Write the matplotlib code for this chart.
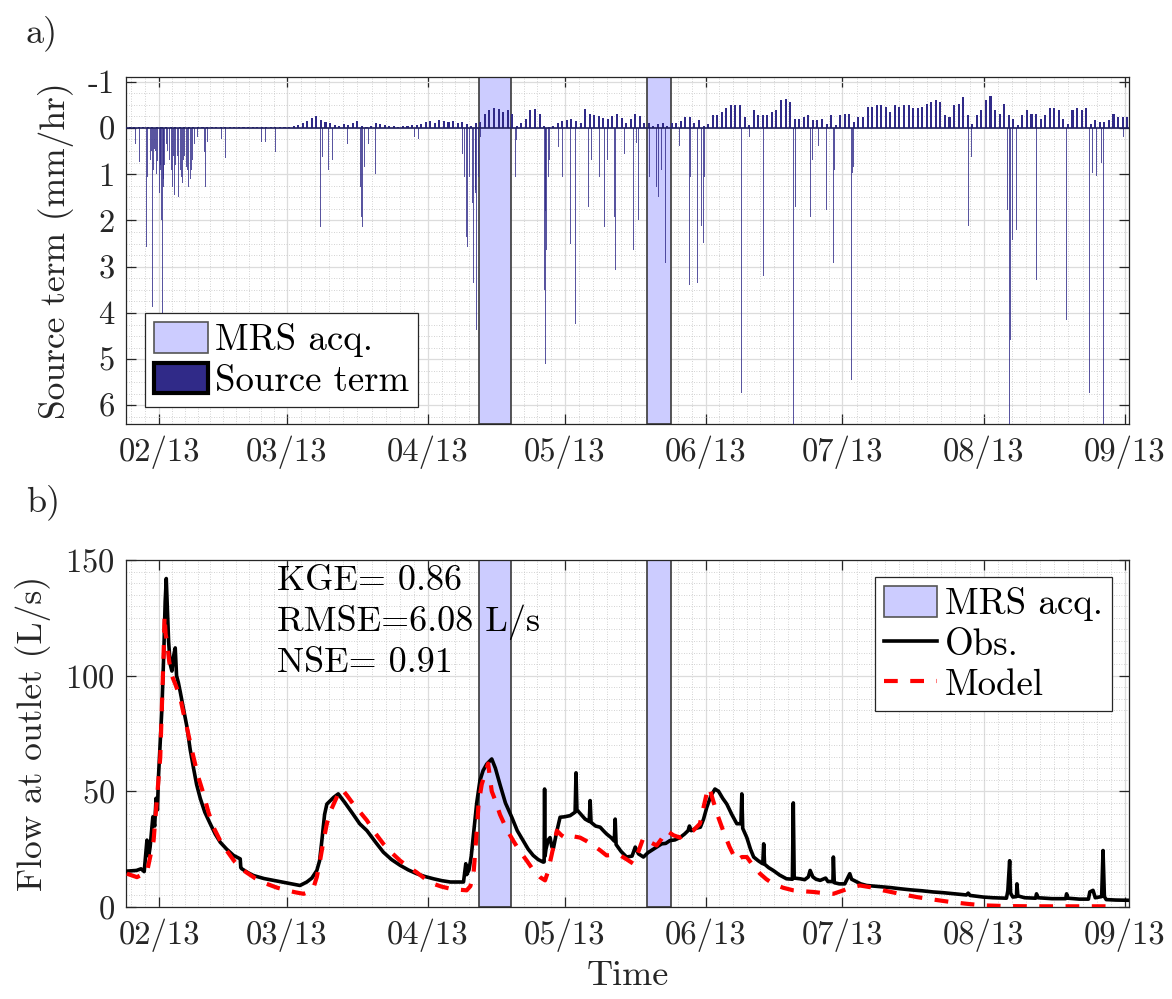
import datetime as dt
import numpy as np
import matplotlib
matplotlib.use("Agg")
from matplotlib import pyplot as plt
import matplotlib.dates as mdates
import matplotlib.patches as mpatches
from matplotlib.lines import Line2D
from matplotlib.ticker import MultipleLocator, FixedLocator

plt.rcParams["font.family"] = ["cmr10", "DejaVu Serif"]
plt.rcParams["mathtext.fontset"] = "cm"
plt.rcParams["axes.unicode_minus"] = False
plt.rcParams["axes.formatter.use_mathtext"] = True

# all days are counted from 1 Feb 2013
start = dt.datetime(2013, 2, 1)

# MRS acquisition windows (days)
mrs_start = [70.3, 107.1]
mrs_end = [77.2, 112.4]

# daily peak of evapotranspiration (negative source term), one value per day from day -7
et_first_day = -7
et_val = [
    -0.01, -0.01, -0.02, -0.01, -0.01, -0.01, -0.01, -0.01, -0.01, -0.01,
    -0.01, -0.02, -0.01, -0.01, -0.01, -0.01, -0.01, -0.02, -0.01, -0.01,
    -0.01, -0.01, -0.02, -0.03, -0.02, -0.01, -0.02, -0.03, -0.02, -0.02,
    -0.01, -0.02, -0.02, -0.03,
    # march
    -0.02, -0.03, -0.05, -0.07, -0.1, -0.14, -0.22, -0.25, -0.18, -0.12,
    -0.1, -0.06, -0.05, -0.08, -0.06, -0.1, -0.16, -0.05, -0.02,
    -0.05, -0.1, -0.08, -0.06, -0.04, -0.05, -0.03, -0.04, -0.05, -0.07,
    -0.06, -0.08, -0.12, -0.14, -0.1, -0.18, -0.15, -0.12, -0.16, -0.1,
    -0.12, -0.08, -0.05, -0.1,
    # april
    -0.12, -0.3, -0.38, -0.42, -0.4, -0.35, -0.38, -0.3,
    -0.05, -0.1, -0.2, -0.38, -0.4, -0.3, -0.05,
    -0.02, -0.05, -0.1, -0.15, -0.18, -0.2, -0.15, -0.1, -0.4, -0.3,
    -0.28, -0.25, -0.22, -0.2, -0.25, -0.3, -0.22, -0.1, -0.2, -0.3,
    -0.25, -0.1,
    -0.1, -0.05, -0.08, -0.1, -0.05, -0.1,
    # june
    -0.1, -0.15, -0.24, -0.24, -0.1, -0.17, -0.05, -0.08, -0.27, -0.27,
    -0.34, -0.42, -0.49, -0.49, -0.49, -0.24, -0.06, -0.38, -0.27, -0.27,
    -0.27, -0.34, -0.38, -0.6, -0.63, -0.56, -0.2, -0.2, -0.24, -0.27,
    -0.17, -0.17, -0.2, -0.09, -0.27, -0.06, -0.27, -0.31, -0.31, -0.13,
    -0.24, -0.24, -0.45, -0.45, -0.49,
    # july - august
    -0.49, -0.45, -0.34, -0.49, -0.45, -0.49, -0.49, -0.42, -0.42, -0.45,
    -0.52, -0.56, -0.6, -0.56, -0.27, -0.24, -0.49, -0.52, -0.67, -0.27,
    -0.09, -0.27, -0.38, -0.6, -0.68, -0.38, -0.31, -0.52, -0.27, -0.2,
    -0.06, -0.27, -0.38, -0.31, -0.31, -0.2, -0.27, -0.42, -0.42, -0.38,
    -0.2, -0.09, -0.38, -0.42, -0.38, -0.42, -0.09, -0.17, -0.13, -0.13,
    -0.17, -0.31, -0.24, -0.24, -0.24, -0.38,
]

# rainfall peaks (positive source term, mm/hr)
rain_day = [
    -5.2, -4.3, -2.85, -2.5, -2.0, -1.8, -1.6, -1.39, -1.2, -1.0, -0.8, -0.66, -0.3,
    0.07, 0.2, 0.3, 0.44, 0.6, 0.7, 0.9, 1.0, 1.2, 1.5, 1.9, 2.3, 2.6, 2.85, 3.1,
    3.4, 3.6, 3.9, 4.0, 4.3, 4.6, 4.8, 5.1, 5.3, 5.6, 5.9, 6.2, 6.5, 6.8, 7.0, 7.2,
    7.4, 7.8, 8.3, 9.9, 10.2, 10.5, 13.6, 14.0, 14.6, 18.6, 22.4, 23.3, 25.5,
    35.5, 35.9, 37.1, 38.1, 38.8, 39.9, 41.4, 44.2, 44.4, 44.7, 45.1, 45.4, 46.0,
    47.5, 52.2, 55.5, 56.0, 56.8, 57.0,
    66.5, 67.0, 67.4, 67.7, 68.2, 68.8, 69.0, 69.4, 69.5, 69.7, 70.0, 70.5,
    78.2, 78.5, 84.6, 84.8, 84.9, 85.1, 85.4, 85.6, 87.7, 88.2, 88.5, 90.3, 91.4,
    94.3, 94.8, 96.6, 97.7, 98.5, 99.9, 100.1, 102.1, 104.2, 104.8, 105.2,
    107.7, 108.4, 109.1, 109.7, 110.3, 111.2, 111.7,
    114.3, 116.4, 116.7, 118.2, 119.1, 119.5, 119.8, 127.9, 129.6, 132.7, 139.2,
    139.6, 142.0, 143.0, 143.4, 144.7, 146.4, 148.0, 148.2, 151.9, 152.2, 152.5,
    177.6, 178.0, 178.3, 186.3, 186.7, 186.8, 187.4, 188.3, 192.6, 199.2, 204.2,
    204.9, 205.8, 206.9, 207.4, 211.6,
]
rain_val = [
    0.34, 0.73, 2.57, 1.06, 0.7, 0.6, 0.5, 3.87, 0.9, 0.45, 0.5, 1.0, 0.72,
    1.4, 0.8, 0.9, 2.0, 6.3, 4.0, 1.27, 1.1, 0.8, 0.34, 0.5, 0.7, 0.9, 1.27, 0.6,
    1.45, 0.8, 0.91, 0.6, 1.5, 0.9, 1.06, 1.2, 0.7, 0.6, 0.84, 0.9, 1.27, 1.1, 0.91, 0.5,
    0.7, 0.34, 0.2, 0.52, 1.27, 0.3, 0.23, 0.63, 0.66, 0.23, 0.3, 0.3, 0.52,
    2.14, 0.63, 0.91, 0.7, 0.56, 0.41, 0.34, 1.27, 1.92, 2.14, 0.84, 0.56, 0.34,
    1.0, 0.2, 0.91, 0.2, 0.63, 0.23,
    0.56, 1.06, 2.35, 2.57, 1.06, 1.63, 3.36, 1.35, 1.4, 4.37, 1.06, 0.2,
    1.06, 0.27, 3.5, 1.8, 5.1, 2.64, 1.06, 0.7, 0.41, 1.85, 1.06, 2.5, 4.23,
    1.71, 0.7, 1.06, 2.14, 0.7, 1.92, 3.07, 0.56, 2.63, 0.33, 2.0,
    1.07, 0.7, 1.27, 1.5, 0.91, 2.93, 0.33,
    0.4, 3.4, 1.07, 3.35, 2.13, 2.49, 1.07, 5.73, 0.19, 3.21, 6.4,
    1.7, 0.3, 1.92, 0.69, 0.4, 1.77, 2.92, 0.9, 5.44, 0.98, 0.84,
    2.13, 0.69, 0.62, 1.77, 6.4, 4.58, 2.42, 2.2, 3.28, 4.15, 5.73,
    0.98, 1.05, 0.76, 6.4, 0.19,
]

# observed flow at outlet (L/s)
obs_day = [
    -7.1, -5.0, -4.0, -3.3, -2.7, -2.3, -2.0, -1.4, -1.0, -0.7, -0.4, -0.15, 0.3,
    0.59, 1.0, 1.3, 1.54, 1.8, 2.05, 2.4, 2.78, 3.1, 3.51, 3.8, 4.2, 4.61, 5.3,
    6.07, 6.8, 7.53, 8.2, 9.0, 10.0, 11.19, 12.3, 13.39, 14.8, 16.31, 17.78, 17.9,
    18.14, 19.5, 20.7, 23.0, 25.1, 28.0, 30.9, 32.4, 33.5, 34.6, 35.2, 35.7, 36.3,
    36.8, 38.3, 39.3, 40.8, 42.6, 44.0, 45.6, 47.5, 49.2, 51.0, 52.9, 54.7, 56.5,
    58.3, 60.2, 62.0, 63.9, 66.8, 67.3, 67.5, 68.0, 68.5, 69.0, 69.7, 70.4, 71.1,
    71.9, 73.0, 73.8, 74.8, 76.0, 77.4, 78.6, 79.9, 81.0, 82.1, 83.2, 84.3, 84.5,
    84.6, 84.7, 84.9, 85.4, 85.8, 86.2, 86.5, 87.2, 88.0, 89.0, 90.2, 91.3, 91.5,
    91.7, 92.6, 93.5, 94.4, 94.6, 94.8, 95.8, 96.8, 97.5, 98.2, 99.2, 99.9, 100.1,
    100.3, 101.4, 102.6, 103.8, 104.5, 105.2, 106.3, 107.3, 108.5, 109.3, 110.3,
    111.2, 112.1, 113.2, 114.3, 115.3, 116.1, 116.4, 116.8, 117.8, 118.8, 119.5,
    120.2, 121.1, 122.0, 122.8, 123.7, 124.6, 125.7, 126.8, 127.7, 127.9, 128.1,
    129.0, 129.8, 130.5, 131.5, 132.5, 132.7, 132.9, 133.8, 134.8, 136.2, 137.7,
    139.0, 139.2, 139.4, 140.7, 141.7, 142.5, 142.9, 143.5, 144.2, 145.1, 146.3,
    146.8, 147.9, 148.0, 148.2, 149.3, 150.5, 151.6, 152.0, 153.0, 154.0, 155.3,
    157.0, 159.0, 160.5, 162.6, 165.0, 167.5, 169.9, 172.0, 175.0, 177.2, 177.6,
    178.0, 180.9, 183.0, 185.5, 186.0, 186.3, 186.7, 186.9, 187.2, 187.4, 188.2,
    188.3, 188.5, 190.0, 192.4, 192.6, 192.9, 196.0, 199.0, 199.2, 199.5, 202.0,
    204.0, 204.3, 205.0, 205.5, 206.9, 207.2, 207.5, 207.9, 210.0, 212.9,
]
obs_flow = [
    15.5, 15.8, 16.5, 15.3, 28.9, 22.0, 26.0, 39.0, 35.0, 47.0, 42.0, 57.0, 75.0,
    86.0, 110.0, 132.0, 142.0, 128.0, 115.0, 105.0, 102.0, 108.0, 112.0, 100.0, 97.0, 93.0, 86.0,
    78.0, 68.0, 60.0, 53.0, 47.0, 41.0, 36.0, 31.5, 28.0, 25.0, 22.3, 20.8, 17.0,
    16.5, 14.8, 13.6, 12.3, 11.5, 10.4, 9.3, 10.8, 12.5, 15.8, 20.0, 28.7, 40.0,
    44.5, 47.4, 48.9, 45.0, 40.0, 36.0, 33.0, 28.0, 23.7, 20.5, 18.0, 16.0, 14.4,
    13.2, 12.2, 11.4, 10.8, 10.8, 18.7, 14.0, 16.0, 22.0, 31.6, 45.0, 54.6, 59.0,
    61.8, 64.0, 60.0, 53.0, 45.0, 38.8, 33.0, 28.7, 25.0, 22.3, 20.5, 19.4, 19.5,
    51.0, 22.0, 25.0, 29.0, 30.0, 26.0, 25.0, 32.0, 38.8, 39.0, 39.5, 41.0, 58.0,
    42.0, 40.0, 38.0, 37.0, 46.0, 36.6, 35.0, 34.5, 33.0, 31.6, 30.0, 28.5, 38.0,
    27.0, 24.0, 21.6, 22.0, 25.9, 23.0, 21.6, 23.5, 25.0, 26.0, 27.3,
    27.5, 28.7, 29.0, 30.0, 31.5, 33.0, 35.0, 33.0, 34.0, 34.5, 38.0,
    43.0, 48.0, 51.0, 50.0, 47.0, 44.5, 40.0, 36.0, 36.0, 48.9, 34.0,
    30.0, 25.0, 21.6, 20.0, 18.7, 27.3, 18.5, 17.0, 15.8, 13.8, 12.2,
    12.0, 45.0, 12.5, 12.2, 11.8, 13.0, 15.8, 13.0, 12.0, 11.5, 12.5,
    11.0, 11.0, 21.6, 10.5, 10.0, 10.0, 14.4, 12.0, 11.0, 10.0, 9.3,
    9.0, 8.6, 8.4, 7.9, 7.4, 7.0, 6.5, 6.2, 5.6, 5.2, 6.0,
    5.0, 4.3, 4.0, 3.8, 3.8, 7.0, 20.0, 6.0, 5.0, 4.3, 4.5,
    10.0, 4.8, 4.0, 3.8, 5.7, 4.0, 3.6, 3.6, 5.7, 3.8, 3.4,
    3.4, 6.5, 7.2, 4.0, 4.5, 24.4, 4.5, 3.2, 3.0, 2.9,
]

# modelled flow at outlet (L/s)
model_day = [
    -7.1, -4.9, -2.7, -1.24, 0.22, 0.95, 1.17, 1.4, 1.68, 2.2, 2.78, 3.6, 4.61,
    5.3, 6.07, 6.8, 7.53, 8.6, 9.72, 10.8, 11.9, 13.3, 14.8, 16.6, 18.5, 21.0,
    23.6, 25.8, 28.0, 30.0, 31.7, 32.9, 33.9, 34.6, 35.3, 36.0, 36.8, 37.5, 38.3,
    39.2, 40.1, 41.3, 42.6, 44.1, 45.6, 47.4, 49.2, 51.0, 52.9, 54.7, 56.5, 58.3,
    60.2, 62.0, 63.9, 65.7, 67.5, 68.3, 69.0, 69.6, 70.1, 70.8, 71.6, 72.2, 72.6,
    73.0, 73.8, 74.8, 76.3, 77.7, 79.2, 80.7, 82.1, 83.6, 84.7, 85.3, 86.2, 87.3,
    88.3, 89.5, 91.0, 92.4, 93.8, 95.3, 96.8, 98.2, 99.7, 101.2, 102.7, 104.1,
    105.2, 106.3, 107.8, 109.2, 110.3, 111.4, 112.9, 114.3, 115.8, 117.2, 118.7,
    119.6, 120.5, 121.0, 121.6, 122.7, 123.8, 125.2, 126.7, 127.9, 129.0, 130.5,
    131.9, 133.3, 134.8, 137.0, 139.2, 141.4, 143.6, 145.8, 148.0, 150.2, 152.0,
    153.8, 156.3, 158.9, 162.6, 166.3, 170.0, 173.6, 177.2, 180.9, 186.0, 191.9,
    209.5,
]
model_flow = [
    14.4, 12.9, 15.0, 28.7, 64.7, 109.0, 126.0, 118.0, 115.0, 106.0, 100.0, 96.0, 90.5,
    84.0, 77.6, 71.0, 64.7, 56.0, 48.9, 41.0, 34.5, 29.0, 24.4, 19.5, 15.8, 12.5,
    10.0, 8.4, 7.2, 6.3, 5.7, 6.5, 8.6, 13.0, 20.0, 28.0, 36.0, 41.0, 44.5,
    48.5, 51.0, 48.0, 44.5, 41.0, 37.4, 32.0, 27.3, 23.5, 20.0, 17.3, 15.0, 12.3,
    10.0, 8.8, 7.9, 7.5, 7.2, 9.0, 14.4, 30.0, 44.5, 53.0, 58.0, 62.0, 56.0,
    50.0, 46.0, 40.0, 33.5, 28.7, 24.0, 20.0, 16.0, 12.9, 11.5, 15.0, 23.0, 33.0,
    31.0, 29.5, 30.5, 30.0, 28.5, 26.6, 24.5, 22.3, 22.6, 22.3, 20.5, 18.7,
    24.0, 30.0, 28.0, 26.6, 29.5, 33.0, 31.0, 30.0, 31.5, 33.0, 36.0,
    44.0, 51.7, 50.0, 46.0, 39.0, 33.0, 26.0, 20.0, 21.6, 21.6, 17.5,
    14.4, 12.0, 10.0, 8.3, 7.2, 6.8, 6.5, 6.0, 5.7, 7.2, 8.5,
    9.3, 8.5, 7.2, 5.7, 4.3, 3.2, 2.2, 1.4, 0.7, 0.4, 0.3,
    0.3,
]

navy = "#302a88"
mrs_col = "#ccccff"
span_edge = "#3a3a3a"
axis_col = "#262626"
tick_fs = 23.5
leg_fs = 26.5


def to_num(days):
    return mdates.date2num(start) + np.asarray(days, dtype=float)


def style_axes(ax):
    ax.set_xlim(to_num(-7.3), to_num(212.9))
    months = [dt.datetime(2013, m, 1) for m in range(2, 10)]
    ax.xaxis.set_major_locator(FixedLocator(mdates.date2num(months)))
    ax.xaxis.set_major_formatter(mdates.DateFormatter("%m/%y"))
    # ten minor divisions per month
    minor = []
    edges = [dt.datetime(2013, 1, 1)] + months + [dt.datetime(2013, 10, 1)]
    for a, b in zip(edges[:-1], edges[1:]):
        minor += list(np.linspace(mdates.date2num(a), mdates.date2num(b), 11)[1:-1])
    ax.xaxis.set_minor_locator(FixedLocator(minor))
    ax.set_axisbelow(True)
    ax.grid(which="major", color="#dcdcdc", lw=0.9, ls="-")
    ax.grid(which="minor", color="#c4c4c4", lw=0.6, ls=(0, (1, 2)))
    ax.tick_params(which="major", direction="in", length=7, width=0.9,
                   top=True, right=True, labelsize=tick_fs, colors=axis_col, pad=8)
    ax.tick_params(which="minor", length=0, top=True, right=True)
    for s in ax.spines.values():
        s.set_color(axis_col)
        s.set_linewidth(0.9)
    for a, b in zip(mrs_start, mrs_end):
        ax.axvspan(to_num(a), to_num(b), facecolor=mrs_col, edgecolor=span_edge,
                   lw=1.2, zorder=1.5)


fig = plt.figure(figsize=(11.72, 9.99), dpi=100)
ax1 = fig.add_axes([0.1075, 0.5756, 0.8558, 0.3473])
ax2 = fig.add_axes([0.1075, 0.0921, 0.8558, 0.3473])

# ---- a) source term
style_axes(ax1)
et_days = et_first_day + np.arange(len(et_val)) + 0.5
ax1.bar(to_num(et_days), et_val, width=0.45, color=navy, edgecolor="none", zorder=3)
ax1.bar(to_num(rain_day), rain_val, width=0.2, color=navy, edgecolor="none",
        alpha=0.8, zorder=3)
ax1.axhline(0, color="#202060", lw=1.2, zorder=3.5)
ax1.set_ylim(6.4, -1.1)
ax1.set_yticks(range(-1, 7))
ax1.set_yticklabels([str(v) for v in range(-1, 7)])
ax1.yaxis.set_minor_locator(MultipleLocator(0.25))
ax1.set_ylabel("Source term (mm/hr)", fontsize=25.5, color=axis_col, labelpad=10)

h1 = [mpatches.Patch(facecolor=mrs_col, edgecolor="#555555", lw=1.2, label="MRS acq."),
      mpatches.Patch(facecolor=navy, edgecolor="black", lw=3, label="Source term")]
leg1 = ax1.legend(handles=h1, loc="lower left", bbox_to_anchor=(0.019, 0.049),
                  borderaxespad=0, fontsize=leg_fs, fancybox=False, framealpha=1,
                  edgecolor=axis_col, handlelength=1.45, handleheight=0.9,
                  handletextpad=0.2, borderpad=0.25, labelspacing=0.15)
leg1.get_frame().set_linewidth(0.9)

# ---- b) flow at outlet
style_axes(ax2)
ax2.plot(to_num(obs_day), obs_flow, color="black", lw=2.6, zorder=4)
ax2.plot(to_num(model_day), model_flow, color="red", lw=3, ls=(0, (3.3, 3)), zorder=5)
ax2.set_ylim(0, 150)
ax2.set_yticks([0, 50, 100, 150])
ax2.yaxis.set_minor_locator(MultipleLocator(5))
ax2.set_ylabel("Flow at outlet (L/s)", fontsize=25.5, color=axis_col, labelpad=10)
ax2.set_xlabel("Time", fontsize=26, color=axis_col, labelpad=6)

ax2.text(0.1505, 0.985, "KGE= 0.86\nRMSE=6.08 L/s\nNSE= 0.91", transform=ax2.transAxes,
         fontsize=26, va="top", ha="left", linespacing=1.3, color="black", zorder=6)

h2 = [mpatches.Patch(facecolor=mrs_col, edgecolor="#555555", lw=1.2, label="MRS acq."),
      Line2D([], [], color="black", lw=2.6, label="Obs."),
      Line2D([], [], color="red", lw=3, ls=(0, (3.3, 3)), label="Model")]
leg2 = ax2.legend(handles=h2, loc="upper right", bbox_to_anchor=(0.983, 0.951),
                  borderaxespad=0, fontsize=leg_fs, fancybox=False, framealpha=1,
                  edgecolor=axis_col, handlelength=1.45, handleheight=0.9,
                  handletextpad=0.2, borderpad=0.25, labelspacing=0.15)
leg2.get_frame().set_linewidth(0.9)

fig.text(0.022, 0.985, "a)", fontsize=26, va="top", ha="left", color=axis_col)
fig.text(0.022, 0.515, "b)", fontsize=26, va="top", ha="left", color=axis_col)

fig.savefig("out.png", dpi=100)
